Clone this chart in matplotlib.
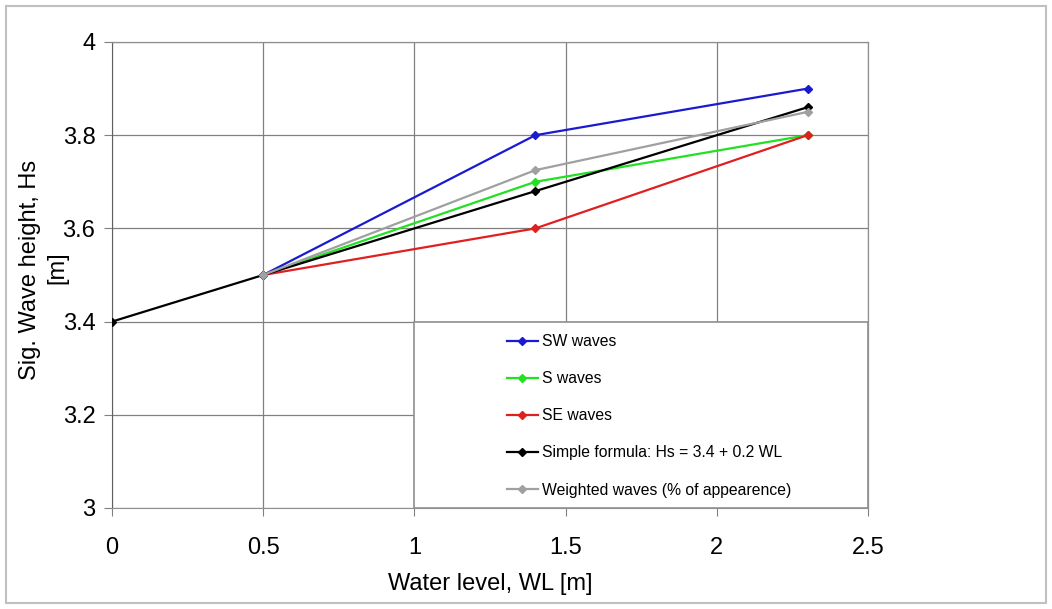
import matplotlib
matplotlib.use("Agg")
import matplotlib.pyplot as plt
from matplotlib.patches import Rectangle

plt.rcParams['font.family'] = ['Liberation Sans', 'DejaVu Sans']

x_sw = [0.5, 1.4, 2.3]
y_sw = [3.5, 3.8, 3.9]
x_s = [0.5, 1.4, 2.3]
y_s = [3.5, 3.7, 3.8]
x_se = [0.5, 1.4, 2.3]
y_se = [3.5, 3.6, 3.8]
x_simple = [0.0, 0.5, 1.4, 2.3]
y_simple = [3.4, 3.5, 3.68, 3.86]
x_w = [0.5, 1.4, 2.3]
y_w = [3.5, 3.725, 3.85]

labels = ["SW waves", "S waves", "SE waves",
          "Simple formula: Hs = 3.4 + 0.2 WL",
          "Weighted waves (% of appearence)"]
colors = ["#1a1ad0", "#22e022", "#e02020", "#000000", "#a0a0a0"]

xticks = [0, 0.5, 1, 1.5, 2, 2.5]
xticklabels = ["0", "0.5", "1", "1.5", "2", "2.5"]
yticks = [3, 3.2, 3.4, 3.6, 3.8, 4]
yticklabels = ["3", "3.2", "3.4", "3.6", "3.8", "4"]

fig = plt.figure(figsize=(10.52, 6.09), dpi=100)
ax = fig.add_axes([112/1052, 1-508/609, 756/1052, 466/609])

# outer figure border
fig.patches.append(Rectangle((6/1052, 6/609), 1040/1052, 597/609,
                             transform=fig.transFigure, fill=False,
                             edgecolor="#c0c0c0", linewidth=1.5))

series = [(x_sw, y_sw), (x_s, y_s), (x_se, y_se), (x_simple, y_simple), (x_w, y_w)]
handles = []
for (xs, ys), lab, c in zip(series, labels, colors):
    h, = ax.plot(xs, ys, color=c, linewidth=1.6, marker="D", markersize=4,
                 label=lab, zorder=3)
    handles.append(h)

ax.set_xlim(0, 2.5)
ax.set_ylim(3, 4)
ax.set_xticks(xticks)
ax.set_xticklabels(xticklabels)
ax.set_yticks(yticks)
ax.set_yticklabels(yticklabels)
ax.tick_params(axis='both', labelsize=17, direction='out', length=6,
               color="#808080")
ax.tick_params(axis='x', pad=15)
ax.tick_params(axis='y', pad=6)
ax.grid(True, color="#808080", linewidth=0.9)
ax.set_axisbelow(True)
for s in ["top", "right"]:
    ax.spines[s].set_color("#909090")
    ax.spines[s].set_linewidth(0.9)
ax.spines["left"].set_color("#606060")
ax.spines["bottom"].set_color("#909090")

ax.set_xlabel("Water level, WL [m]", fontsize=17, labelpad=10)

# two-line y-axis title (as in the reference)
fig.text(30/1052, 1-270/609, "Sig. Wave height, Hs", rotation=90,
         ha="center", va="center", fontsize=17)
fig.text(57/1052, 1-268/609, "[m]", rotation=90,
         ha="center", va="center", fontsize=17)

# legend box in lower-right quadrant
ax.add_patch(Rectangle((1.0, 3.0), 1.5, 0.4, facecolor="white",
                       edgecolor="#909090", linewidth=1.2, zorder=2.5,
                       clip_on=False))
leg = ax.legend(handles=handles, loc="upper left",
                bbox_to_anchor=((507-112)/756, (508-334)/466),
                frameon=False, fontsize=11.3, borderpad=0, borderaxespad=0,
                handlelength=1.95, handletextpad=0.25, labelspacing=1.41)
leg.set_zorder(4)

fig.savefig("out.png", dpi=100)
